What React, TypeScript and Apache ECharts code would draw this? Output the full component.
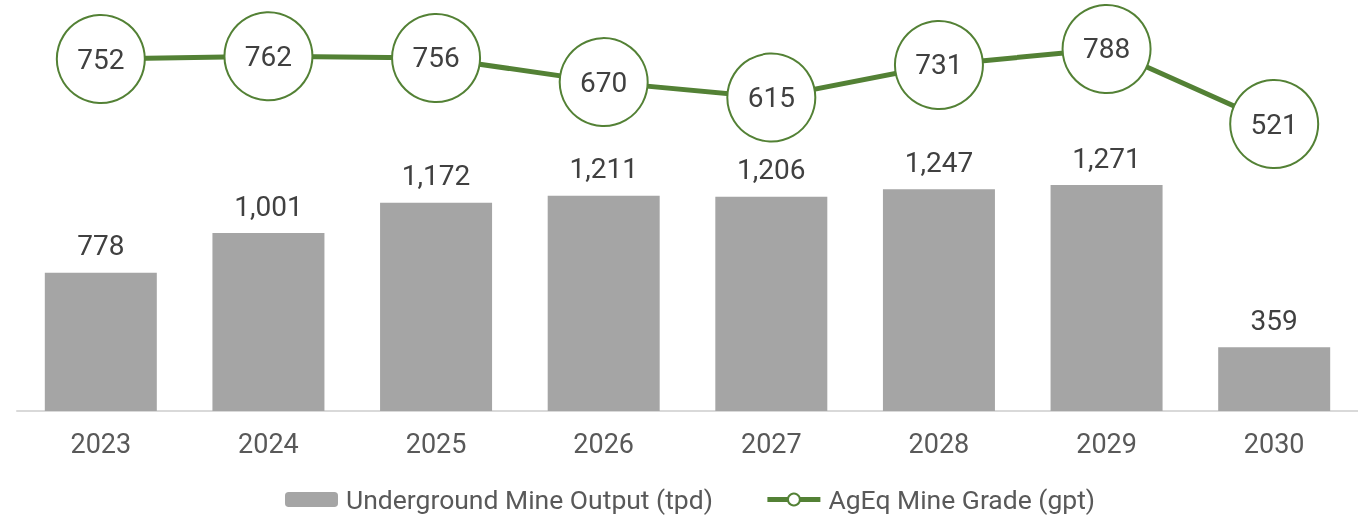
import React, { useEffect, useRef } from "react";
import * as echarts from "echarts";

const years = ["2023", "2024", "2025", "2026", "2027", "2028", "2029", "2030"];
const mineOutput = [778, 1001, 1172, 1211, 1206, 1247, 1271, 359];
const mineGrade = [752, 762, 756, 670, 615, 731, 788, 521];
const seriesNames = ["Underground Mine Output (tpd)", "AgEq Mine Grade (gpt)"];

export default function App() {
  const ref = useRef<HTMLDivElement>(null);
  useEffect(() => {
    if (!ref.current) return;
    const chart = echarts.init(ref.current, undefined, { renderer: "svg" });
    chart.setOption({
      animation: false,
      textStyle: { fontFamily: "Roboto" },
      grid: { left: 17, right: 0, top: 20, bottom: 105, containLabel: false },
      legend: {
        top: 486,
        left: 285,
        padding: 0,
        itemWidth: 53,
        itemHeight: 15,
        itemGap: 52,
        lineStyle: { width: 5 },
        textStyle: { fontSize: 26.5, color: "#595959", fontFamily: "Roboto", padding: [0, 0, 0, 3] },
        data: seriesNames,
      },
      xAxis: {
        type: "category",
        data: years,
        axisLine: { lineStyle: { color: "#d9d9d9", width: 2 } },
        axisTick: { show: false },
        axisLabel: { fontSize: 27, color: "#595959", margin: 19 },
      },
      yAxis: [
        { type: "value", min: 0, max: 2200, show: false, splitLine: { show: false } },
        { type: "value", min: -500, max: 891, show: false, splitLine: { show: false } },
      ],
      series: [
        {
          name: seriesNames[0],
          type: "bar",
          data: mineOutput,
          barWidth: 112,
          itemStyle: { color: "#a5a5a5" },
          label: {
            show: true,
            position: "top",
            distance: 13,
            fontSize: 28,
            color: "#404040",
            formatter: (p: any) => Number(p.value).toLocaleString("en-US"),
          },
        },
        {
          name: seriesNames[1],
          type: "line",
          yAxisIndex: 1,
          data: mineGrade,
          symbol: "circle",
          symbolSize: 88,
          clip: false,
          lineStyle: { color: "#538135", width: 5 },
          itemStyle: { color: "#ffffff", borderColor: "#538135", borderWidth: 2 },
          label: {
            show: true,
            position: "inside",
            fontSize: 28,
            color: "#404040",
          },
          z: 3,
        },
      ],
    });
    return () => chart.dispose();
  }, []);
  return (
    <div
      ref={ref}
      style={{ position: "fixed", left: 0, top: 0, width: 1358, height: 516 }}
    />
  );
}
